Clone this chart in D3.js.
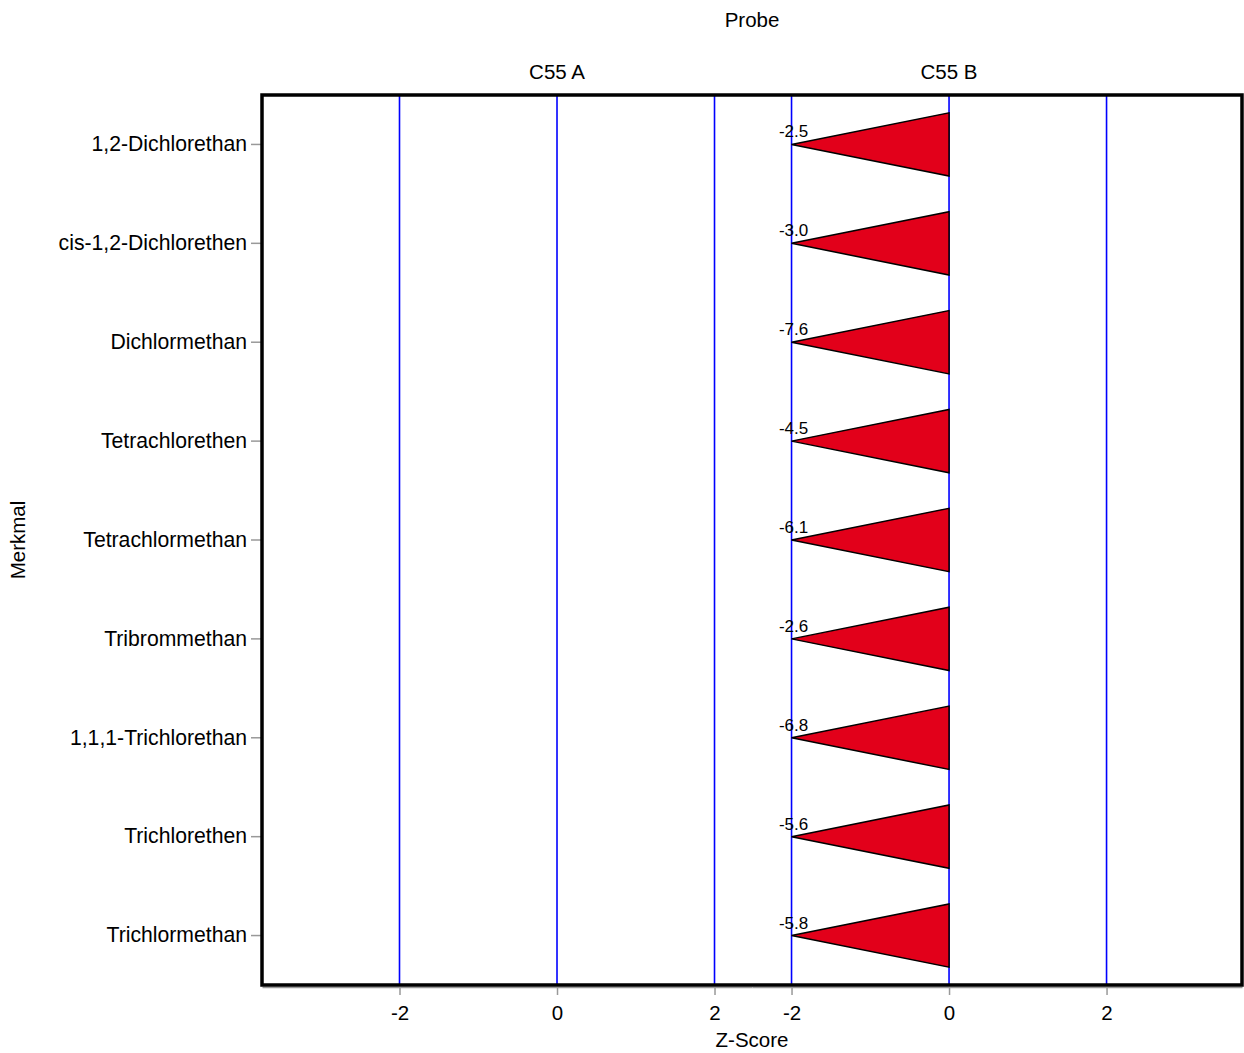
<!DOCTYPE html>
<html>
<head>
<meta charset="utf-8">
<script src="https://cdn.jsdelivr.net/npm/d3@7"></script>
<style>
  body { margin: 0; background: #fff; }
  text { font-family: "Liberation Sans", Arial, sans-serif; }
</style>
</head>
<body>
<svg id="chart" width="1244" height="1053"></svg>
<script>
const categories = ["1,2-Dichlorethan", "cis-1,2-Dichlorethen", "Dichlormethan", "Tetrachlorethen",
  "Tetrachlormethan", "Tribrommethan", "1,1,1-Trichlorethan", "Trichlorethen", "Trichlormethan"];
const panels = ["C55 A", "C55 B"];
const valuesA = [null, null, null, null, null, null, null, null, null];
const valuesB = [-2.5, -3.0, -7.6, -4.5, -6.1, -2.6, -6.8, -5.6, -5.8];
const tickValues = [-2, 0, 2];
const clampMin = -2;

const svg = d3.select("#chart");
const pL = 262, pR = 1242, pT = 95, pB = 985;
const panelW = (pR - pL) / 2;

const y = d3.scaleBand().domain(categories).range([pT, pB]);

const panelDomains = [[-3.746, 2.476], [-2.502, 3.72]];
const series = [valuesA, valuesB];

const gridColor = "#0000ff";
const hy = s => String(s).replace("\u2212", "-");

panels.forEach((p, i) => {
  const x0 = pL + i * panelW;
  const x = d3.scaleLinear().domain(panelDomains[i]).range([x0, x0 + panelW]);

  // grid lines
  svg.append("g").selectAll("line").data(tickValues).join("line")
    .attr("x1", d => x(d)).attr("x2", d => x(d))
    .attr("y1", pT).attr("y2", pB)
    .attr("stroke", gridColor).attr("stroke-width", 1.6);

  // x axis
  const ax = svg.append("g").attr("transform", `translate(0,${pB + 2})`)
    .call(d3.axisBottom(x).tickValues(tickValues).tickFormat(d => hy(d3.format("d")(d)))
      .tickSize(8).tickSizeOuter(0).tickPadding(10));
  ax.select(".domain").attr("stroke", "#999").attr("stroke-width", 1.5);
  ax.selectAll(".tick line").attr("stroke", "#999").attr("stroke-width", 1.5);
  ax.selectAll(".tick text").attr("font-size", 20.5).attr("fill", "#000")
    .attr("font-family", "'Liberation Sans', Arial, sans-serif");

  // panel label
  svg.append("text").attr("x", x(0)).attr("y", 79)
    .attr("text-anchor", "middle").attr("font-size", 20.5).text(p);

  // triangles
  const data = categories.map((c, k) => ({ c, v: series[i][k] })).filter(d => d.v !== null);
  const h = y.bandwidth() * 0.32;
  const g = svg.append("g");
  g.selectAll("path").data(data).join("path")
    .attr("d", d => {
      const cy = y(d.c) + y.bandwidth() / 2;
      const tip = x(Math.max(d.v, clampMin));
      return `M${tip},${cy}L${x(0)},${cy - h}L${x(0)},${cy + h}Z`;
    })
    .attr("fill", "#e2001a").attr("stroke", "#000").attr("stroke-width", 1.5)
    .attr("stroke-linejoin", "miter");
  g.selectAll("text").data(data).join("text")
    .attr("x", d => x(Math.max(d.v, clampMin)) + 2)
    .attr("y", d => y(d.c) + y.bandwidth() / 2 - 7)
    .attr("text-anchor", "middle").attr("font-size", 17)
    .text(d => hy(d3.format(".1f")(d.v)));
});

// y axis
const ay = svg.append("g").attr("transform", `translate(${pL},0)`)
  .call(d3.axisLeft(y).tickSize(11).tickPadding(4));
ay.select(".domain").remove();
ay.selectAll(".tick line").attr("stroke", "#999").attr("stroke-width", 1.5);
ay.selectAll(".tick text").attr("font-size", 21.2).attr("fill", "#000")
  .attr("font-family", "'Liberation Sans', Arial, sans-serif");

// frame
svg.append("rect").attr("x", pL).attr("y", pT).attr("width", pR - pL).attr("height", pB - pT)
  .attr("fill", "none").attr("stroke", "#000").attr("stroke-width", 3.5);

// titles
svg.append("text").attr("x", (pL + pR) / 2).attr("y", 27).attr("text-anchor", "middle")
  .attr("font-size", 20.5).text("Probe");
svg.append("text").attr("x", (pL + pR) / 2).attr("y", 1047).attr("text-anchor", "middle")
  .attr("font-size", 20.5).text("Z-Score");
svg.append("text").attr("transform", `translate(25,${(pT + pB) / 2}) rotate(-90)`)
  .attr("text-anchor", "middle").attr("font-size", 20.5).text("Merkmal");
</script>
</body>
</html>
